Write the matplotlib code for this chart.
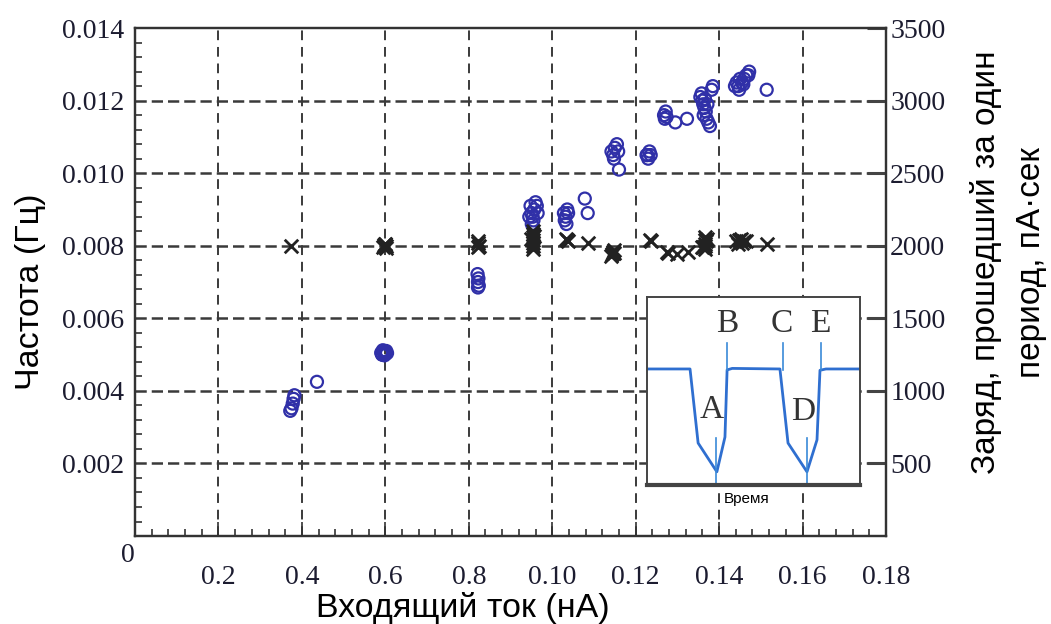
import matplotlib
matplotlib.use("Agg")
import matplotlib.pyplot as plt
import matplotlib.transforms as mtrans
from matplotlib.ticker import MultipleLocator
import numpy as np

# frequency (left axis), blue circles
freq_x = [0.0372, 0.0375, 0.0378, 0.0380, 0.0382, 0.0436,
          0.0592, 0.0596, 0.0600, 0.0594, 0.0602, 0.0598, 0.0590, 0.0604, 0.0597, 0.0593,
          0.0821, 0.0823, 0.0822, 0.0824, 0.0822,
          0.0948, 0.0950, 0.0953, 0.0957, 0.0960, 0.0963, 0.0955, 0.0951, 0.0945, 0.0965,
          0.1028, 0.1032, 0.1036, 0.1030, 0.1034, 0.1038, 0.1078, 0.1085,
          0.1142, 0.1146, 0.1150, 0.1155, 0.1148, 0.1158, 0.1160,
          0.1226, 0.1230, 0.1233, 0.1228, 0.1236,
          0.1268, 0.1270, 0.1272, 0.1274, 0.1295, 0.1323,
          0.1355, 0.1360, 0.1362, 0.1365, 0.1368, 0.1363, 0.1370, 0.1358, 0.1372, 0.1366,
          0.1382, 0.1385, 0.1378, 0.1374,
          0.1438, 0.1442, 0.1446, 0.1450, 0.1455, 0.1460, 0.1465, 0.1470, 0.1448, 0.1458,
          0.1472, 0.1514]
freq_y = [0.00345, 0.00352, 0.00365, 0.00378, 0.00388, 0.00425,
          0.00500, 0.00508, 0.00502, 0.00512, 0.00510, 0.00498, 0.00505, 0.00504, 0.00506, 0.00500,
          0.00722, 0.00710, 0.00700, 0.00690, 0.00685,
          0.0091, 0.0089, 0.0088, 0.0090, 0.0092, 0.0091, 0.0087, 0.0086, 0.0088, 0.0089,
          0.0089, 0.0088, 0.0090, 0.0087, 0.0086, 0.0089, 0.0093, 0.0089,
          0.0106, 0.0105, 0.0107, 0.0108, 0.0104, 0.0106, 0.0101,
          0.0105, 0.0104, 0.0106, 0.0105, 0.0105,
          0.0116, 0.0115, 0.0117, 0.01155, 0.0114, 0.0115,
          0.0121, 0.0120, 0.0119, 0.0118, 0.0117, 0.0116, 0.0115, 0.0122, 0.0119, 0.01205,
          0.0123, 0.0124, 0.0113, 0.0114,
          0.0124, 0.0125, 0.0124, 0.0126, 0.0125, 0.0126, 0.0127, 0.0127, 0.0123, 0.01245,
          0.0128, 0.0123]

# charge per period (right axis), crosses
charge_x = [0.0373,
            0.0595, 0.0600, 0.0598, 0.0602, 0.0597, 0.0601, 0.0599,
            0.0822, 0.0824, 0.0821, 0.0823,
            0.0953, 0.0953, 0.0953, 0.0953, 0.0953, 0.0953, 0.0953, 0.0950, 0.0957,
            0.1035, 0.1033, 0.1037, 0.1085,
            0.1145, 0.1143, 0.1147, 0.1149, 0.1141,
            0.1234, 0.1236, 0.1274, 0.1278, 0.1298, 0.1325,
            0.1365, 0.1365, 0.1365, 0.1365, 0.1365, 0.1362, 0.1368, 0.1372, 0.1360,
            0.1440, 0.1448, 0.1455, 0.1460, 0.1465, 0.1452, 0.1445, 0.1514]
charge_y = [2000,
            1990, 2010, 2000, 1995, 2005, 1985, 2015,
            2020, 2000, 2030, 1990,
            2100, 2080, 2060, 2040, 2020, 2000, 1980, 2050, 2070,
            2040, 2050, 2030, 2020,
            1960, 1940, 1970, 1950, 1930,
            2040, 2030, 1960, 1950, 1945, 1960,
            2010, 2040, 2060, 2000, 1980, 1990, 2030, 2050, 1990,
            2030, 2040, 2020, 2035, 2030, 2050, 2010, 2010]

xtick_vals = [0, 0.02, 0.04, 0.06, 0.08, 0.10, 0.12, 0.14, 0.16, 0.18]
xtick_labels = ['0', '0.2', '0.4', '0.6', '0.8', '0.10', '0.12', '0.14', '0.16', '0.18']
ytick_vals = [0.002, 0.004, 0.006, 0.008, 0.010, 0.012, 0.014]
ytick_labels = ['0.002', '0.004', '0.006', '0.008', '0.010', '0.012', '0.014']
rtick_vals = [500, 1000, 1500, 2000, 2500, 3000, 3500]

# inset waveform (schematic)
wave_x = [0, 0.202, 0.24, 0.328, 0.366, 0.376, 0.40, 0.624, 0.662, 0.751, 0.798, 0.812, 0.84, 1.0]
wave_y = [0.617, 0.617, 0.223, 0.07, 0.255, 0.612, 0.62, 0.617, 0.223, 0.07, 0.24, 0.61, 0.617, 0.617]

serif = 'Liberation Serif'
sans = 'Liberation Sans'
tick_col = '#1c1c30'
grid_col = '#3a3a3a'
blue = '#3030a8'

fig = plt.figure(figsize=(10.51, 6.24), dpi=100)
ax = fig.add_axes([0.1285, 0.141, 0.7145, 0.814])
ax2 = ax.twinx()

ax.set_xlim(0, 0.18)
ax.set_ylim(0, 0.014)
ax2.set_ylim(0, 3500)

ax.scatter(freq_x, freq_y, s=75, facecolors='none', edgecolors=blue, linewidths=1.6, zorder=3)
ax2.scatter(charge_x, charge_y, s=95, marker='x', color='#222222', linewidths=2.0, zorder=3)

# grid
for xv in xtick_vals[1:-1]:
    ax.axvline(xv, color=grid_col, lw=1.4, dashes=(5, 3.5), zorder=1)
for yv in ytick_vals[:-1]:
    ax.axhline(yv, color=grid_col, lw=1.8, dashes=(4.5, 2), zorder=1)

ax.set_xticks(xtick_vals)
ax.set_xticklabels(xtick_labels, fontfamily=serif, fontsize=20, color=tick_col)
ax.set_yticks(ytick_vals)
ax.set_yticklabels(ytick_labels, fontfamily=serif, fontsize=20, color=tick_col)
ax.xaxis.set_minor_locator(MultipleLocator(0.004))
ax.yaxis.set_minor_locator(MultipleLocator(0.0004))
ax.tick_params(which='both', direction='in', top=False, right=False, color='#333333')
ax.tick_params(which='major', length=0, pad=8)
ax.tick_params(which='minor', length=5, width=1.2)
ax.tick_params(axis='x', which='major', length=10, width=1.2, pad=21)

ax2.set_yticks(rtick_vals)
ax2.set_yticklabels([str(v) for v in rtick_vals], fontfamily=serif, fontsize=20, color=tick_col)
ax2.tick_params(direction='in', length=14, width=2.2, pad=3, color='#444444')

# lone "0" sits higher and a bit left, as in the original
lbl0 = ax.get_xticklabels()[0]
lbl0.set_transform(lbl0.get_transform() + mtrans.ScaledTranslation(-0.07, 0.22, fig.dpi_scale_trans))

for a in (ax, ax2):
    for sp in a.spines.values():
        sp.set_color('#333333')
        sp.set_linewidth(1.6)

ax.set_xlabel('Входящий ток (нА)', fontfamily=sans, fontsize=24.5)
ax.xaxis.set_label_coords(0.437, -0.11)
ax.set_ylabel('Частота (Гц)', fontfamily=sans, fontsize=24.5)
ax.yaxis.set_label_coords(-0.118, 0.48)
ax2.set_ylabel('Заряд, прошедший за один\nпериод, пА·сек', fontfamily=sans, fontsize=24,
               linespacing=1.6)
ax2.yaxis.set_label_coords(1.112, 0.539)

# inset
ins = fig.add_axes([0.6156, 0.2228, 0.2027, 0.3013])
ins.set_xlim(0, 1)
ins.set_ylim(0, 1)
ins.set_xticks([])
ins.set_yticks([])
for sp in ins.spines.values():
    sp.set_color('#444444')
    sp.set_linewidth(1.4)
ins.spines['bottom'].set_linewidth(3)
ins.plot(wave_x, wave_y, color='#2f6fd0', lw=2)
line_col = '#3a8ad8'
ins.plot([0.324, 0.324], [0.0, 0.25], color=line_col, lw=1.2)
ins.plot([0.751, 0.751], [0.0, 0.25], color=line_col, lw=1.2)
ins.plot([0.376, 0.376], [0.61, 0.755], color=line_col, lw=1.2)
ins.plot([0.640, 0.640], [0.61, 0.755], color=line_col, lw=1.2)
ins.plot([0.817, 0.817], [0.61, 0.755], color=line_col, lw=1.2)
for lab, lx, ly in [('A', 0.305, 0.40), ('B', 0.376, 0.86), ('C', 0.634, 0.86),
                    ('E', 0.812, 0.86), ('D', 0.732, 0.39)]:
    ins.text(lx, ly, lab, fontfamily=serif, fontsize=24, color='#333333', ha='center', va='center')
ins.text(0.47, -0.075, 'Время', fontfamily=sans, fontsize=11, ha='center', va='center',
         transform=ins.transAxes)

fig.savefig('out.png', dpi=100)
